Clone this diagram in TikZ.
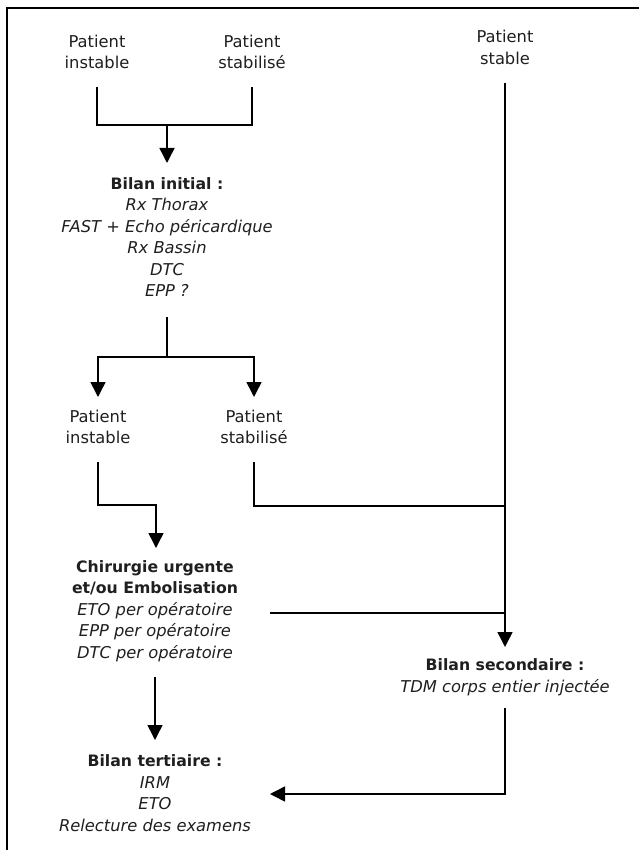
\documentclass[tikz,border=0pt]{standalone}
\usepackage{fontspec}
\setmainfont{DejaVu Sans}
\newcommand{\hd}[1]{{\fontsize{15.7}{21.5}\selectfont\bfseries #1}}
\usetikzlibrary{arrows.meta}
\begin{document}
\begin{tikzpicture}[x=1pt,y=-1pt,
  txt/.style={align=center, inner sep=0pt, font=\fontsize{16.3}{21.5}\selectfont, text=black!88},
  ln/.style={line width=1.5pt},
  arr/.style={ln, -{Triangle[length=15pt,width=15pt]}},
  frame/.style={line width=2pt}]
\useasboundingbox (0,0) rectangle (638,850);
\draw[frame] (7,851) -- (7,8) -- (639,8);

% nodes
\node[txt] (pi1) at (97,52) {Patient\\instable};
\node[txt] (ps1) at (252,52) {Patient\\stabilisé};
\node[txt] (pst) at (505,47.5) {Patient\\stable};
\node[txt] (bi) at (167,237) {\hd{Bilan initial :}\\\textit{Rx Thorax}\\\textit{FAST + Echo péricardique}\\\textit{Rx Bassin}\\\textit{DTC}\\\textit{EPP ?}};
\node[txt] (pi2) at (98,427) {Patient\\instable};
\node[txt] (ps2) at (254,427) {Patient\\stabilisé};
\node[txt] (chir) at (155,611) {\hd{Chirurgie urgente}\\\hd{et/ou Embolisation}\\\textit{ETO per opératoire}\\\textit{EPP per opératoire}\\\textit{DTC per opératoire}};
\node[txt] (bs) at (505,677) {\hd{Bilan secondaire :}\\\textit{TDM corps entier injectée}};
\node[txt] (bt) at (155,793) {\hd{Bilan tertiaire :}\\\textit{IRM}\\\textit{ETO}\\\textit{Relecture des examens}};

\coordinate (j1) at (167,125);
\coordinate (j2) at (167,357);

% connectors
\draw[ln] (pi1 |- 0,87) |- (j1);
\draw[ln] (ps1 |- 0,87) |- (j1);
\draw[arr] (j1) -- (bi |- 0,163);

\draw[ln] (bi |- 0,317) -- (j2);
\draw[arr] (j2) -| (pi2 |- 0,397);
\draw[arr] (j2) -| (ps2 |- 0,397);

\draw[arr] (pi2 |- 0,462) -- (pi2 |- 0,505) -| (156,548);
\draw[ln] (ps2 |- 0,462) |- (pst |- 0,506);
\draw[arr] (pst |- 0,83) -- (bs |- 0,647);
\draw[ln] (270,613) -- (pst |- 0,613);

\draw[arr] (bs |- 0,708) |- (270,794);
\draw[arr] (bt |- 0,677) -- (bt |- 0,740);
\end{tikzpicture}
\end{document}
